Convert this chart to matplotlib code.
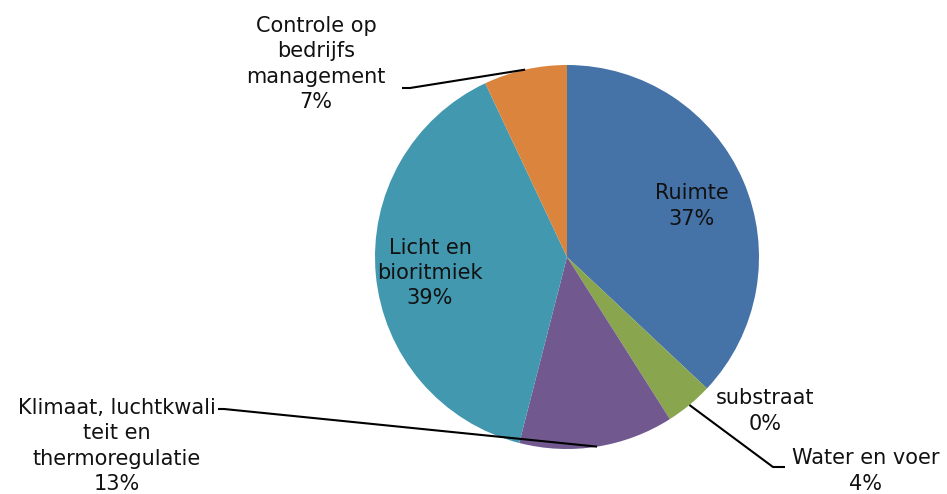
import numpy as np
import matplotlib.pyplot as plt

labels = ['Ruimte', 'substraat', 'Water en voer',
          'Klimaat, luchtkwali\nteit en\nthermoregulatie',
          'Licht en\nbioritmiek', 'Controle op\nbedrijfs\nmanagement']
values = [37, 0, 4, 13, 39, 7]
colors = ['#4572A7', '#89A54E', '#89A54E', '#71588F', '#4198AF', '#DB843D']

W, H = 947, 494
fig = plt.figure(figsize=(W / 100, H / 100), dpi=100)
ax = fig.add_axes([0, 0, 1, 1])

cx, cy, r = 567, H - 257, 192
wedges, _ = ax.pie(values, colors=colors, startangle=90, counterclock=False,
                   center=(cx, cy), radius=r, frame=True,
                   wedgeprops=dict(linewidth=0))
ax.set_xlim(0, W)
ax.set_ylim(0, H)
ax.set_aspect('equal')
ax.axis('off')

font = dict(family='DejaVu Sans', fontsize=15, color='#111111', ha='center',
            va='center', linespacing=1.32)

def pct(v):
    return f'{v:.0f}%'

def label(i, x, y):
    ax.text(x, H - y, labels[i] + '\n' + pct(values[i]), **font)

def leader(i, pts):
    # start at the middle of the wedge's outer edge
    w = wedges[i]
    a = np.deg2rad((w.theta1 + w.theta2) / 2)
    xs = [cx + r * np.cos(a)] + [p[0] for p in pts]
    ys = [cy + r * np.sin(a)] + [H - p[1] for p in pts]
    ax.plot(xs, ys, color='black', lw=1.5, solid_capstyle='butt')

# inside labels
label(0, 692, 206)
label(4, 430, 273)
# outside labels with leader lines
label(5, 316, 64)
leader(5, [(410, 88), (402, 88)])
label(1, 765, 411)
label(2, 866, 471)
leader(2, [(773, 467), (785, 467)])
label(3, 117, 446)
leader(3, [(224, 409), (218, 409)])

fig.savefig('out.png', dpi=100)
